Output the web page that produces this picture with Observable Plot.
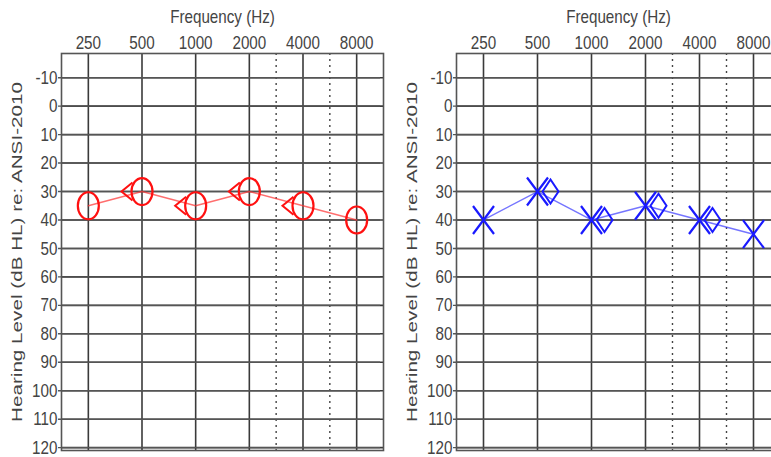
<!DOCTYPE html>
<html>
<head>
<meta charset="utf-8">
<script src="https://cdn.jsdelivr.net/npm/d3@7"></script>
<script src="https://cdn.jsdelivr.net/npm/@observablehq/plot@0.6"></script>
<style>
  html, body { margin: 0; padding: 0; background: #fff; }
  body { width: 771px; height: 457px; overflow: hidden; position: relative; }
  .panel { position: absolute; top: 0; height: 457px; }
  .panel svg { max-width: none !important; display: block; }
  svg text { fill: #444; }
</style>
</head>
<body>
<div id="left" class="panel" style="left:0px; width:390px"></div>
<div id="right" class="panel" style="left:390px; width:400px"></div>
<script>
// ---- data ----
const freqs = [250, 500, 1000, 2000, 4000, 8000];
const freqLabels = ["250", "500", "1000", "2000", "4000", "8000"];
const interOctave = [2828, 5657];           // dashed lines (drawn midway between octaves)
const dbTicks = [-10, 0, 10, 20, 30, 40, 50, 60, 70, 80, 90, 100, 110, 120];
const dbLabels = ["-10", "0", "10", "20", "30", "40", "50", "60", "70", "80", "90", "100", "110", "120"];

// Right ear (red): air conduction O, bone conduction <
const rightAirDb = [35, 30, 35, 30, 35, 40];
const rightBoneFreqs = [500, 1000, 2000, 4000];
const rightBoneDb = [30, 35, 30, 35];

// Left ear (blue): air conduction X, bone conduction ◇
const leftAirDb = [40, 30, 40, 35, 40, 45];
const leftBoneFreqs = [500, 1000, 2000, 4000];
const leftBoneDb = [30, 40, 35, 40];

const xTitle = "Frequency (Hz)";
const yTitle = "Hearing Level (dB HL) re: ANSI-2010";

// ---- symbols ----
const ellipseSym = (rx, ry) => ({draw(c) {
  const k = 0.5523;
  c.moveTo(rx, 0);
  c.bezierCurveTo(rx, k*ry, k*rx, ry, 0, ry);
  c.bezierCurveTo(-k*rx, ry, -rx, k*ry, -rx, 0);
  c.bezierCurveTo(-rx, -k*ry, -k*rx, -ry, 0, -ry);
  c.bezierCurveTo(k*rx, -ry, rx, -k*ry, rx, 0);
  c.closePath();
}});
const lessSym = (w, h) => ({draw(c) {
  c.moveTo(w/2, -h/2); c.lineTo(-w/2, 0); c.lineTo(w/2, h/2);
}});
const crossSym = (w, h) => ({draw(c) {
  c.moveTo(-w/2, -h/2); c.lineTo(w/2, h/2);
  c.moveTo(w/2, -h/2); c.lineTo(-w/2, h/2);
}});
const diamondSym = (w, h) => ({draw(c) {
  c.moveTo(0, -h/2); c.lineTo(w/2, 0); c.lineTo(0, h/2); c.lineTo(-w/2, 0); c.closePath();
}});

const FONT = '"Liberation Sans", Arial, sans-serif';

function panel({width, marginLeft, marginRight, air, boneF, bone, color, lineColor, airSym, boneSym, boneDx}) {
  const airData = freqs.map((f, i) => ({f, db: air[i]}));
  const boneData = boneF.map((f, i) => ({f, db: bone[i]}));
  return Plot.plot({
    width, height: 457,
    marginLeft, marginRight, marginTop: 53, marginBottom: 7,
    style: {fontFamily: FONT, fontSize: "18px", color: "#444", background: "#fff"},
    x: {type: "log", domain: [250 / Math.SQRT2, 8000 * Math.SQRT2], axis: null},
    y: {domain: [-18.5, 121], reverse: true, axis: null},
    marks: [
      Plot.ruleY(dbTicks, {stroke: "#3a3a3a", strokeWidth: 1.6}),
      Plot.ruleX(freqs, {stroke: "#3a3a3a", strokeWidth: 1.6}),
      Plot.ruleX(interOctave, {stroke: "#444", strokeWidth: 1.4, strokeDasharray: "2,4"}),
      Plot.frame({stroke: "#555", strokeWidth: 1.6}),
      // y ticks and labels
      Plot.tickY(dbTicks, {y: (d) => d, frameAnchor: "left", dx: -3, stroke: "#555", strokeWidth: 1.4}),
      Plot.text(dbTicks, {y: (d) => d, text: (d, i) => dbLabels[i], frameAnchor: "left", dx: -4,
        textAnchor: "end", fontSize: 19, fill: "#444"}),
      // x tick labels (top)
      Plot.text(freqs, {x: (d) => d, text: (d, i) => freqLabels[i], frameAnchor: "top", dy: -11,
        lineAnchor: "middle", fontSize: 19, fill: "#444"}),
      Plot.text([xTitle], {frameAnchor: "top", dy: -37, lineAnchor: "middle", fontSize: 19, fill: "#444"}),
      Plot.text([yTitle], {frameAnchor: "left", dx: -44, rotate: -90, textAnchor: "middle",
        lineAnchor: "middle", fontSize: 15, fill: "#444"}),
      Plot.line(airData, {x: "f", y: "db", stroke: lineColor, strokeWidth: 1.4, strokeOpacity: 0.7}),
      Plot.dot(boneData, {x: "f", y: "db", dx: boneDx, symbol: boneSym, r: 8, stroke: color, strokeWidth: 2, fill: "none"}),
      Plot.dot(airData, {x: "f", y: "db", symbol: airSym, r: 8, stroke: color, strokeWidth: 2.2, fill: "none"})
    ]
  });
}

function condense(svg) {
  d3.select(svg).selectAll("text").each(function() {
    if (this.textContent === yTitle) {
      this.setAttribute("textLength", 340);
      this.setAttribute("lengthAdjust", "spacingAndGlyphs");
    } else {
      const len = this.getComputedTextLength();
      this.setAttribute("textLength", (len * 0.8).toFixed(1));
      this.setAttribute("lengthAdjust", "spacingAndGlyphs");
    }
  });
}

const leftSvg = panel({
  width: 390, marginLeft: 61, marginRight: 7,
  air: rightAirDb, boneF: rightBoneFreqs, bone: rightBoneDb,
  color: "#ff1010", lineColor: "#ff3030",
  airSym: ellipseSym(10.5, 13.5), boneSym: lessSym(11, 18), boneDx: -15
});
document.getElementById("left").appendChild(leftSvg);
condense(leftSvg);

const rightSvg = panel({
  width: 400, marginLeft: 66, marginRight: 10,
  air: leftAirDb, boneF: leftBoneFreqs, bone: leftBoneDb,
  color: "#1a1aff", lineColor: "#3a3aff",
  airSym: crossSym(21, 28), boneSym: diamondSym(16, 24), boneDx: 13
});
document.getElementById("right").appendChild(rightSvg);
condense(rightSvg);
</script>
</body>
</html>
